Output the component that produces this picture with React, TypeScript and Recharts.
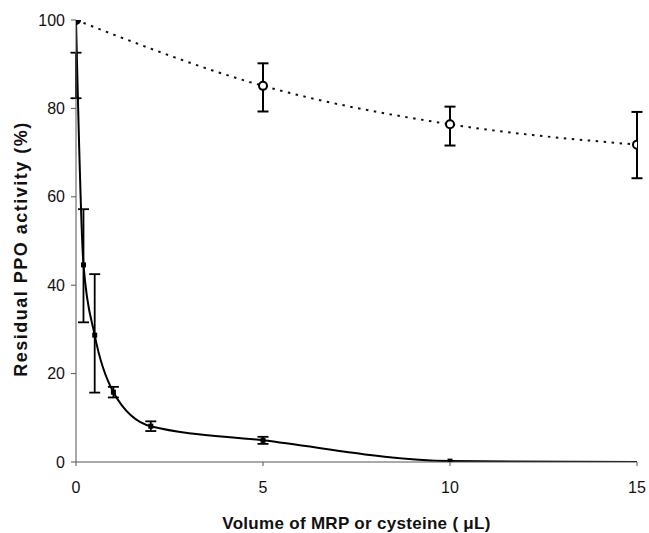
import { ComposedChart, Line, XAxis, YAxis, ErrorBar, Label } from 'recharts'

// MRP (solid, filled markers)
const mrpX = [0, 0.2, 0.5, 1, 2, 5, 10, 15]
const mrpY = [100, 44.6, 28.7, 15.8, 8.1, 4.9, 0.2, 0]
const mrpErrLow = [17.7, 13, 13, 1.2, 1.1, 0.8, null, null]
const mrpErrHigh = [-7.4, 12.6, 13.8, 1.2, 1.1, 0.8, null, null]

// cysteine (dotted, open circles)
const cysX = [0, 5, 10, 15]
const cysY = [100, 85.1, 76.4, 71.8]
const cysErrLow = [null, 5.8, 4.8, 7.6]
const cysErrHigh = [null, 5.1, 4, 7.4]

const xTicks = [0, 5, 10, 15]
const yTicks = [0, 20, 40, 60, 80, 100]

const build = (xs: number[], ys: number[], lo: (number | null)[], hi: (number | null)[]) =>
  xs.map((x, i) => ({
    x,
    y: ys[i],
    err: lo[i] == null ? null : [lo[i], hi[i]],
  }))

const mrpData = build(mrpX, mrpY, mrpErrLow, mrpErrHigh)
const cysData = build(cysX, cysY, cysErrLow, cysErrHigh)

const font = '"Liberation Sans", Arial, sans-serif'
const axisColor = '#555'

const MrpDot = (props: any) => {
  const { cx, cy, payload, index } = props
  if (payload.x === 15) return <g key={`m-${index}`} />
  if (payload.x === 0) return <circle key={`m-${index}`} cx={cx} cy={cy} r={4.5} fill="#000" />
  return <rect key={`m-${index}`} x={cx - 2.5} y={cy - 2.5} width={5} height={5} fill="#000" />
}

const CysDot = (props: any) => {
  const { cx, cy, index } = props
  return <circle key={`c-${index}`} cx={cx} cy={cy} r={4} fill="#fff" stroke="#000" strokeWidth={2} />
}

export default function App() {
  return (
    <div style={{ position: 'absolute', left: 0, top: 0, background: '#fff' }}>
      <ComposedChart width={649} height={533} margin={{ top: 20, right: 12, left: 0, bottom: 0 }}>
        <XAxis
          type="number"
          dataKey="x"
          domain={[0, 15]}
          ticks={xTicks}
          allowDataOverflow
          height={71}
          stroke={axisColor}
          tickSize={4}
          tickMargin={16}
          tick={{ fill: '#111', fontSize: 16, fontFamily: font }}
        >
          <Label
            content={({ viewBox }: any) => (
              <text
                x={viewBox.x + viewBox.width / 2}
                y={529}
                textAnchor="middle"
                fontFamily={font}
                fontWeight="bold"
                fontSize={17}
                letterSpacing={0.3}
                fill="#111"
              >
                Volume of MRP or cysteine ( μL)
              </text>
            )}
          />
        </XAxis>
        <YAxis
          type="number"
          domain={[0, 100]}
          ticks={yTicks}
          allowDataOverflow
          width={76}
          stroke={axisColor}
          tickSize={5}
          tickMargin={6}
          tick={{ fill: '#111', fontSize: 16, fontFamily: font }}
        >
          <Label
            content={() => (
              <text
                x={27}
                y={249}
                transform="rotate(-90, 27, 249)"
                textAnchor="middle"
                fontFamily={font}
                fontWeight="bold"
                fontSize={18}
                letterSpacing={1.5}
                fill="#111"
              >
                Residual PPO activity (%)
              </text>
            )}
          />
        </YAxis>
        <Line
          data={cysData}
          dataKey="y"
          type="monotone"
          stroke="#111"
          strokeWidth={2}
          strokeDasharray="2.5 5.5"
          dot={CysDot}
          isAnimationActive={false}
        >
          <ErrorBar dataKey="err" direction="y" width={5.5} stroke="#000" strokeWidth={2} />
        </Line>
        <Line
          data={mrpData}
          dataKey="y"
          type="monotone"
          stroke="#000"
          strokeWidth={2}
          dot={MrpDot}
          isAnimationActive={false}
        >
          <ErrorBar dataKey="err" direction="y" width={5.5} stroke="#000" strokeWidth={1.8} />
        </Line>
      </ComposedChart>
    </div>
  )
}
